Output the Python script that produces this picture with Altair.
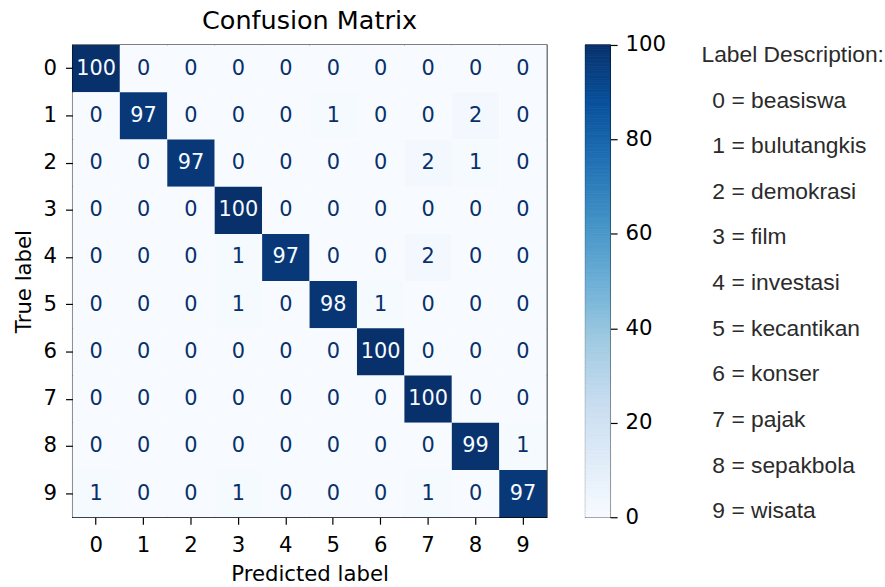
import altair as alt
import pandas as pd

# Class indices and the confusion counts (rows = true label, columns = predicted label)
classes = list(range(10))
counts = [
    [100, 0, 0, 0, 0, 0, 0, 0, 0, 0],
    [0, 97, 0, 0, 0, 1, 0, 0, 2, 0],
    [0, 0, 97, 0, 0, 0, 0, 2, 1, 0],
    [0, 0, 0, 100, 0, 0, 0, 0, 0, 0],
    [0, 0, 0, 1, 97, 0, 0, 2, 0, 0],
    [0, 0, 0, 1, 0, 98, 1, 0, 0, 0],
    [0, 0, 0, 0, 0, 0, 100, 0, 0, 0],
    [0, 0, 0, 0, 0, 0, 0, 100, 0, 0],
    [0, 0, 0, 0, 0, 0, 0, 0, 99, 1],
    [1, 0, 0, 1, 0, 0, 0, 1, 0, 97],
]
class_names = ["beasiswa", "bulutangkis", "demokrasi", "film", "investasi",
               "kecantikan", "konser", "pajak", "sepakbola", "wisata"]
colorbar_ticks = [0, 20, 40, 60, 80, 100]

# matplotlib "Blues" colour stops
blues = ["#f7fbff", "#deebf7", "#c6dbef", "#9ecae1", "#6baed6",
         "#4292c6", "#2171b5", "#08519c", "#08306b"]
blues_domain = [100 * i / 8 for i in range(9)]
color_scale = alt.Scale(domain=blues_domain, range=blues, interpolate="rgb")

MPL_FONT = "DejaVu Sans"
DESC_FONT = "Liberation Sans"
TICK_SIZE = 21.4
LABEL_SIZE = 21.4
TITLE_SIZE = 25.7

cells = pd.DataFrame(
    [{"true": t, "pred": p, "count": counts[t][p]} for t in classes for p in classes]
)

x_enc = alt.X("pred:O", title="Predicted label",
              scale=alt.Scale(domain=classes, paddingInner=0, paddingOuter=0),
              axis=alt.Axis(labelAngle=0, labelFontSize=TICK_SIZE, titleFontSize=LABEL_SIZE,
                            labelFont=MPL_FONT, titleFont=MPL_FONT, labelColor="#000",
                            titleColor="#000", titleFontWeight="normal", tickSize=7,
                            tickColor="#000", tickWidth=1.2, domain=False, labelPadding=11,
                            titlePadding=7))
y_enc = alt.Y("true:O", title="True label",
              scale=alt.Scale(domain=classes, paddingInner=0, paddingOuter=0),
              axis=alt.Axis(labelFontSize=TICK_SIZE, titleFontSize=LABEL_SIZE, labelFont=MPL_FONT,
                            titleFont=MPL_FONT, labelColor="#000", titleColor="#000",
                            titleFontWeight="normal", tickSize=7, tickColor="#000",
                            tickWidth=1.2, domain=False, labelPadding=9, titlePadding=9))

heat = alt.Chart(cells).mark_rect().encode(
    x=x_enc, y=y_enc,
    color=alt.Color("count:Q", scale=color_scale, legend=None),
)
labels = alt.Chart(cells).mark_text(font=MPL_FONT, fontSize=21).encode(
    x="pred:O", y="true:O",
    text="count:Q",
    color=alt.condition(alt.datum.count > 50, alt.value("#f7fbff"), alt.value("#08306b")),
)
matrix = (heat + labels).properties(
    width=478, height=476,
    title=alt.TitleParams("Confusion Matrix", font=MPL_FONT, fontSize=TITLE_SIZE,
                          fontWeight="normal", color="#000", anchor="middle", offset=10),
)

# Colour bar: thin slices across 0..100 drawn through the same colour scale
steps = pd.DataFrame({"v": [i * 0.5 for i in range(200)]})
steps["v2"] = steps["v"] + 0.5
colorbar = alt.Chart(steps).mark_rect(strokeWidth=0.8).encode(
    y=alt.Y("v:Q", scale=alt.Scale(domain=[0, 100], nice=False, zero=False),
            axis=alt.Axis(orient="right", values=colorbar_ticks, title=None,
                          labelFontSize=TICK_SIZE, labelFont=MPL_FONT, labelColor="#000",
                          tickSize=7, tickColor="#000", tickWidth=1.2, domain=False,
                          grid=False, labelPadding=8)),
    y2="v2:Q",
    color=alt.Color("v:Q", scale=color_scale, legend=None),
    stroke=alt.Stroke("v:Q", scale=color_scale, legend=None),
).properties(width=25, height=476)

# Label description panel
desc = pd.DataFrame({
    "row": [i + 1 for i in classes],
    "text": [f"{i} = {name}" for i, name in zip(classes, class_names)],
})
header = pd.DataFrame({"row": [0], "text": ["Label Description:"]})
row_scale = alt.Scale(domain=[-0.22, 10.13], reverse=True, nice=False, zero=False)
desc_header = alt.Chart(header).mark_text(
    font=DESC_FONT, fontSize=23, align="left", baseline="middle", color="#2b2b2b"
).encode(x=alt.value(0), y=alt.Y("row:Q", scale=row_scale, axis=None), text="text:N")
desc_items = alt.Chart(desc).mark_text(
    font=DESC_FONT, fontSize=23, align="left", baseline="middle", color="#2b2b2b", dx=11
).encode(x=alt.value(0), y=alt.Y("row:Q", scale=row_scale, axis=None), text="text:N")
description = (desc_header + desc_items).properties(
    width=170, height=476,
    view=alt.ViewBackground(strokeOpacity=0),
)

left = alt.hconcat(matrix, colorbar, spacing=36)
chart = alt.hconcat(left, description, spacing=35).properties(
    padding={"left": 12, "top": 5, "right": 0, "bottom": 0},
    background="white",
).configure_view(stroke="#000", strokeWidth=1.3).configure_axis(grid=False)

chart.save("out.html", embed_options={"renderer": "svg", "actions": False})
